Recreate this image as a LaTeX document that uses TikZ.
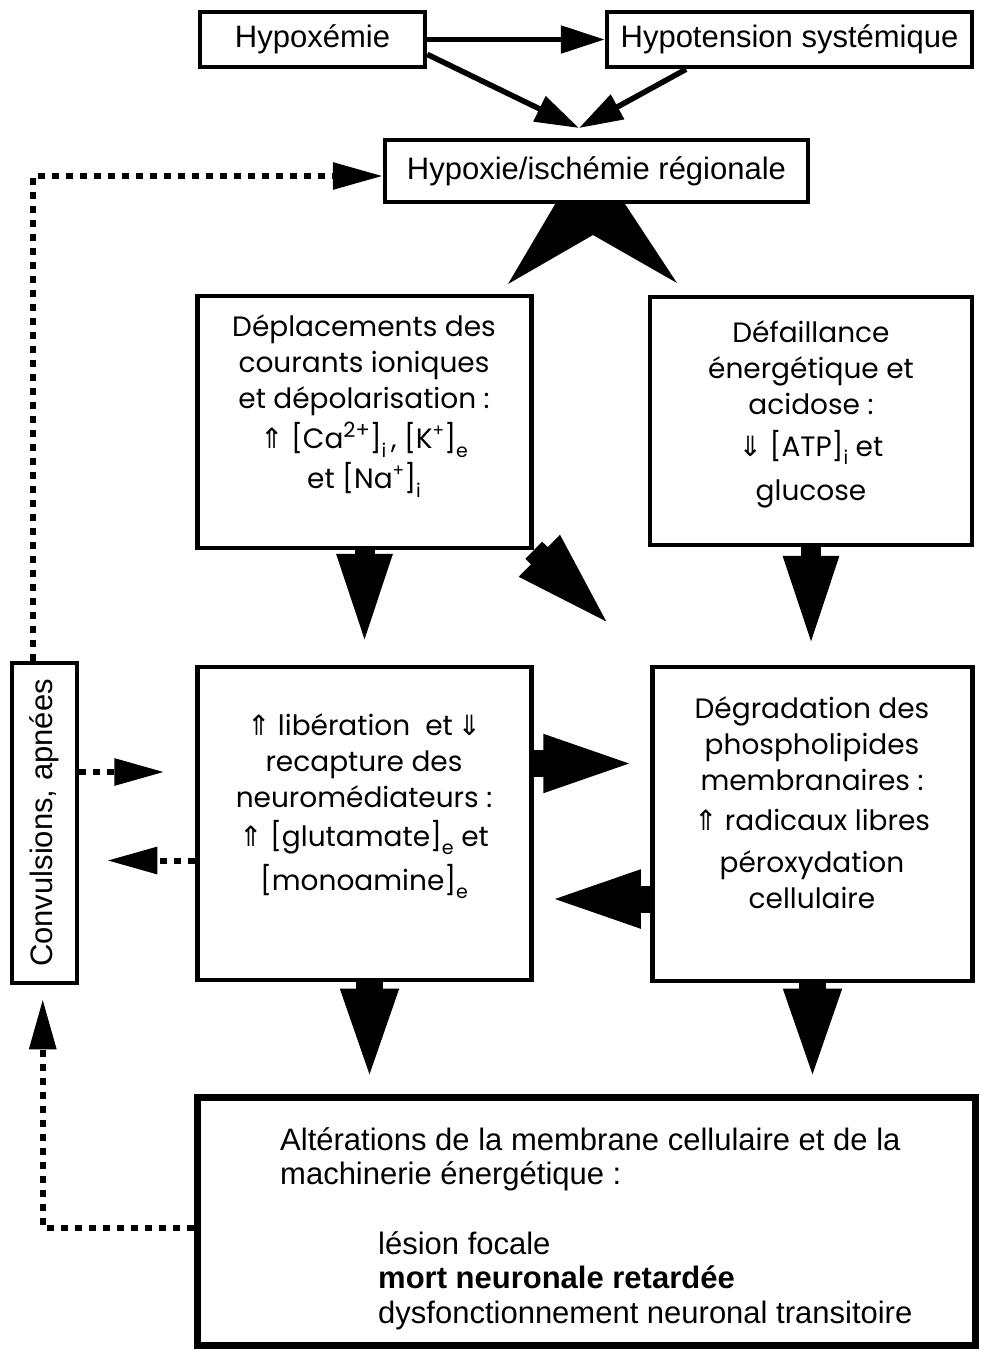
\documentclass[tikz,border=0pt]{standalone}
\usepackage{fontspec}
\setmainfont{Liberation Sans}
\newfontfamily\agf{Poppins}
\newfontfamily\symf{DejaVu Sans}
\usetikzlibrary{arrows.meta,calc}
\newcommand\upa{{\symf\char"21D1}}
\newcommand\dna{{\symf\char"21D3}}
\newcommand\sbx[1]{\raisebox{-0.3em}{\fontsize{19}{19}\selectfont #1}}
\newcommand\spx[1]{\raisebox{0.45em}{\fontsize{17}{17}\selectfont #1}}
\newcommand\spb[1]{\raisebox{0.4em}{\fontsize{21}{21}\selectfont #1}}
\begin{document}
\begin{tikzpicture}[x=1pt,y=-1pt,
  box/.style={draw, line width=4.5pt, inner sep=0pt, font=\fontsize{31}{36}\selectfont},
  mid/.style={align=center, inner sep=0pt, font=\agf\fontsize{28}{36}\selectfont},
  alttext/.style={align=left, inner sep=0pt, font=\fontsize{31}{34.5}\selectfont},
  thinarr/.style={line width=5.5pt, -{Triangle[length=44pt,width=27pt]}},
  fat/.style={line width=20pt, -{Triangle[length=92pt,width=50pt]}},
  fatd/.style={line width=24pt, -{Triangle[length=106pt,width=50pt]}},
  fath/.style={line width=27pt, -{Triangle[length=98pt,width=50pt]}},
  dotarr/.style={line width=6pt, dash pattern=on 7pt off 7pt, -{Triangle[length=50pt,width=26pt]}},
]
\useasboundingbox (0,0) rectangle (985,1352);
\fill[white] (0,0) rectangle (985,1352);

% boxes
\node[box, minimum width=225, minimum height=55] (hxm) at (312.5,39.5) {Hypoxémie};
\node[box, minimum width=365, minimum height=55] (hyt) at (789.5,39.5) {Hypotension systémique};
\node[box, minimum width=423, minimum height=62] (hyp) at (596.5,171) {Hypoxie/ischémie régionale};
\node[box, minimum width=334, minimum height=252] (dep) at (364.5,422) {};
\node[box, minimum width=322, minimum height=248] (def) at (811,421) {};
\node[box, minimum width=334, minimum height=313] (lib) at (364.5,823.5) {};
\node[box, minimum width=320, minimum height=314] (deg) at (812.5,824) {};
\node[box, line width=7pt, minimum width=778, minimum height=248] (alt) at (586,1221) {};
\node[box, minimum width=65, minimum height=320] (conv) at (44.5,823) {\rotatebox{90}{Convulsions, apnées}};

% box texts
\node[mid] (deptxt) at (364,406) {Déplacements des\\courants ioniques\\et dépolarisation :\\[4pt]\upa{} [Ca\spb{2+}]\sbx{i}\,, [K\spx{+}]\sbx{e}\\[4pt]et [Na\spx{+}]\sbx{i}};
\node[mid] (deftxt) at (811,414) {Défaillance\\énergétique et\\acidose :\\[6pt]\dna{} [ATP]\sbx{i} et\\[8pt]glucose};
\node[mid] (libtxt) at (364,806) {\upa{} libération~ et\,\dna\\recapture des\\neuromédiateurs :\\[3pt]\upa{} [glutamate]\sbx{e} et\\[8pt][monoamine]\sbx{e}};
\node[mid] (degtxt) at (812,803) {Dégradation des\\phospholipides\\membranaires :\\[4pt]\upa{} radicaux libres\\[6pt]péroxydation\\cellulaire};
\node[alttext, anchor=north west] (alttxt) at (280,1127) {Altérations de la membrane cellulaire et de la\\machinerie énergétique :};
\node[alttext, anchor=north west] (alttxtb) at (378,1231) {lésion focale\\\textbf{mort neuronale retardée}\\dysfonctionnement neuronal transitoire};

% top thin arrows
\coordinate (meet) at (579,128);
\draw[thinarr] (hxm.east) -- (hyt.west);
\draw[thinarr] ($(hxm.east)!0.5!(hxm.south east)$) -- (meet);
\draw[thinarr] ($(hyt.south west)!0.22!(hyt.south east)$) -- (meet);

% double wedge from hypoxie box
\fill (557,201) -- (508,284) -- (593,235) -- (677,283) -- (623,201) -- cycle;

% fat arrows
\draw[fat, shorten >=19pt] (dep.south) -- (dep.south |- lib.north);
\draw[fat, shorten >=17pt] (def.south) -- (def.south |- deg.north);
\draw[fath, shorten >=7pt] ([xshift=5pt]lib.south) -- ([xshift=5pt]lib.south |- alt.north);
\draw[fath, shorten >=7pt] (deg.south) -- (deg.south |- alt.north);
\coordinate (dtip) at (615,630);
\draw[fatd] (dep.south east) -- (dtip);
\draw[fath, shorten >=9pt] ([yshift=60pt]lib.east) -- ([yshift=60pt]lib.east -| deg.west);
\draw[fath, shorten >=9pt] ([yshift=-75pt]deg.west) -- ([yshift=-75pt]deg.west -| lib.east);

% dotted feedback arrows
\draw[dotarr] ([xshift=23pt]conv.north west) |- ([yshift=-5pt]hyp.west);
\draw[dotarr, shorten >=14pt] ([yshift=-7pt]alt.west) -| ([xshift=33pt]conv.south west);
\draw[dotarr, shorten >=31pt] ([yshift=51pt]conv.east) -- ([yshift=51pt]conv.east -| lib.west);
\draw[dotarr, shorten >=28pt] ([yshift=-37pt]lib.west) -- ([yshift=-37pt]lib.west -| conv.east);
\end{tikzpicture}
\end{document}
